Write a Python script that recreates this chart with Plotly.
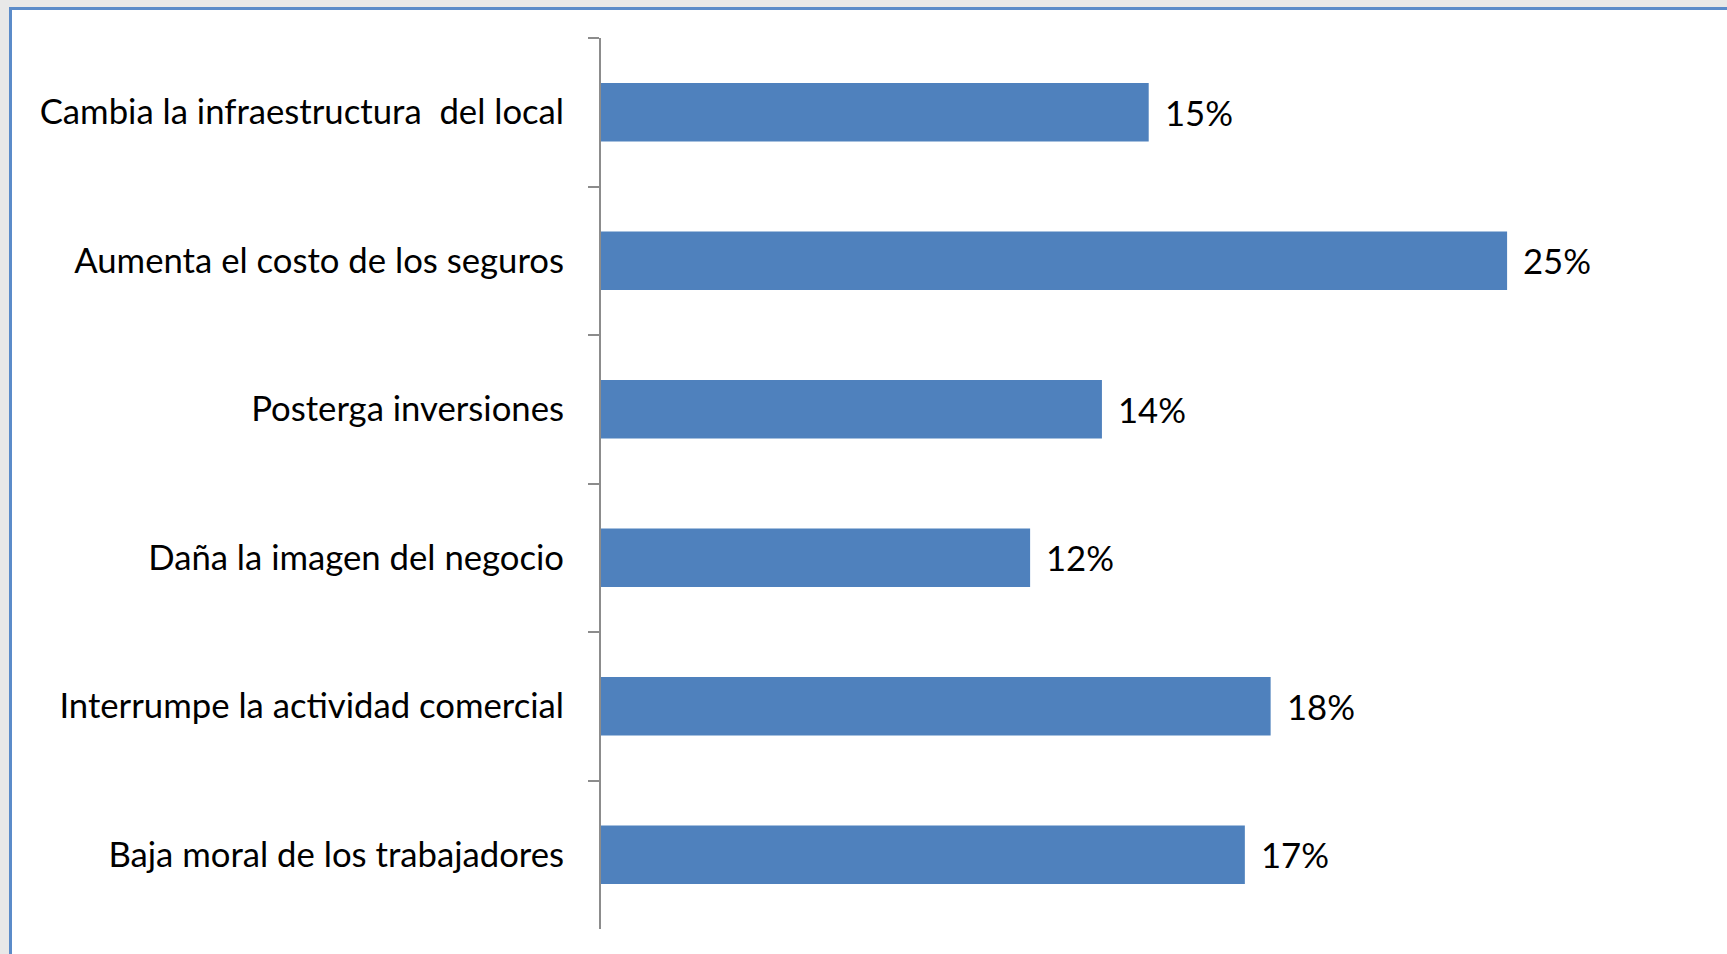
import plotly.graph_objects as go

categories = [
    "Cambia la infraestructura  del local",
    "Aumenta el costo de los seguros",
    "Posterga inversiones",
    "Daña la imagen del negocio",
    "Interrumpe la actividad comercial",
    "Baja moral de los trabajadores",
]
values = [14.87, 24.6, 13.6, 11.65, 18.18, 17.48]
labels = ["15%", "25%", "14%", "12%", "18%", "17%"]

W, H = 1727, 954
ML, MR, MT, MB = 601, 21, 38, 25
PW, PH = W - ML - MR, H - MT - MB

def px(x):
    return (x - ML) / PW

def py(y):
    return (H - MB - y) / PH

FONT = "Lato"
FS = 34.7
fig = go.Figure()
fig.add_trace(go.Bar(
    y=categories, x=values, orientation="h",
    marker=dict(color="#4f81bd", line=dict(width=0)),
    hoverinfo="skip",
))

for c, v, t in zip(categories, values, labels):
    fig.add_annotation(
        x=v, y=c, xref="x", yref="y", text=t,
        showarrow=False, xanchor="left", xshift=14,
        font=dict(family=FONT, size=FS, color="#000000"),
    )

# frame: grey window strips and blue border
fig.add_shape(type="rect", xref="paper", yref="paper", x0=px(0), x1=px(W), y0=py(0), y1=py(7),
              fillcolor="#e8e8e8", line=dict(width=0), layer="below")
fig.add_shape(type="rect", xref="paper", yref="paper", x0=px(0), x1=px(9), y0=py(0), y1=py(H),
              fillcolor="#e8e8e8", line=dict(width=0), layer="below")
fig.add_shape(type="rect", xref="paper", yref="paper", x0=px(9), x1=px(W), y0=py(7), y1=py(10),
              fillcolor="#5b8bc9", line=dict(width=0), layer="below")
fig.add_shape(type="rect", xref="paper", yref="paper", x0=px(9), x1=px(12), y0=py(7), y1=py(H),
              fillcolor="#5b8bc9", line=dict(width=0), layer="below")

fig.update_layout(
    width=W, height=H, autosize=False,
    margin=dict(l=ML, r=MR, t=MT, b=MB, pad=0),
    paper_bgcolor="#ffffff", plot_bgcolor="#ffffff",
    showlegend=False, bargap=0.607,
    font=dict(family=FONT, color="#000000"),
    xaxis=dict(range=[0, 30.0], visible=False, fixedrange=True),
    yaxis=dict(
        autorange="reversed", type="category",
        showline=True, linecolor="#8c8c8c", linewidth=2,
        ticks="outside", tickson="boundaries", ticklen=11, tickwidth=2, tickcolor="#8c8c8c",
        tickfont=dict(family=FONT, size=FS, color="#000000"),
        ticklabelstandoff=28, showgrid=False, zeroline=False, fixedrange=True,
    ),
)

fig.write_html(
    "out.html",
    config={"displayModeBar": False},
    post_script="document.body.style.margin='0';document.body.style.overflow='hidden';",
)
